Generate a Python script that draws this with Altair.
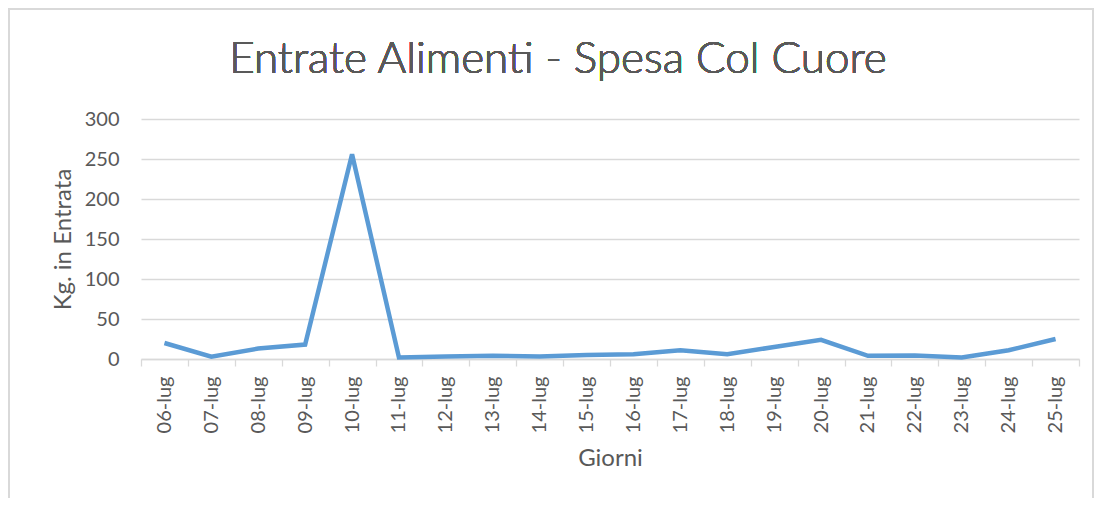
import altair as alt
import pandas as pd

giorni = ["06-lug", "07-lug", "08-lug", "09-lug", "10-lug", "11-lug", "12-lug",
          "13-lug", "14-lug", "15-lug", "16-lug", "17-lug", "18-lug", "19-lug",
          "20-lug", "21-lug", "22-lug", "23-lug", "24-lug", "25-lug"]
kg = [20, 3, 13, 18, 256, 2, 3, 4, 3, 5, 6, 11, 6, 15, 24, 4, 4.5, 2, 11, 25]
y_ticks = [0, 50, 100, 150, 200, 250, 300]
titolo = "Entrate Alimenti - Spesa Col Cuore"

df = pd.DataFrame({"Giorni": giorni, "Kg": kg})

FONT = "Lato"
TXT = "#595959"
W, H = 938, 240
PL, PT, PR, PB = 133, 111, 15, 139

line = alt.Chart(df).mark_line(color="#5b9bd5", strokeWidth=4.5, strokeJoin="miter").encode(
    x=alt.X("Giorni:N", sort=giorni,
            scale=alt.Scale(paddingInner=0, paddingOuter=0),
            axis=alt.Axis(title="Giorni", labelAngle=-90, labelFontSize=20,
                          labelColor=TXT, titleColor=TXT, titleFontSize=24,
                          titleFontWeight="normal", titlePadding=14,
                          tickBand="extent", ticks=True, tickSize=7,
                          tickColor="#d9d9d9", domainColor="#d9d9d9",
                          domainWidth=1.3, tickWidth=1.3,
                          labelPadding=10, grid=False, labelFont=FONT,
                          titleFont=FONT)),
    y=alt.Y("Kg:Q", scale=alt.Scale(domain=[0, 300], nice=False),
            axis=alt.Axis(title="Kg. in Entrata", values=y_ticks,
                          labelFontSize=20, labelColor=TXT, titleColor=TXT,
                          titleFontSize=24, titleFontWeight="normal",
                          titlePadding=9, domain=False, ticks=False,
                          gridColor="#d9d9d9", gridWidth=1.3, labelPadding=22,
                          labelFont=FONT, titleFont=FONT)),
)

border = alt.Chart(df).mark_rect(fill=None, stroke="#d9d9d9", strokeWidth=1.5).encode(
    x=alt.value(-PL + 1), x2=alt.value(W + PR - 1),
    y=alt.value(-PT + 1), y2=alt.value(H + PB + 10),
)

title = alt.Chart(df).mark_text(font=FONT, fontSize=44, fontWeight=300, color=TXT,
                                align="center", baseline="alphabetic").encode(
    text=alt.datum(titolo), x=alt.value(W / 2 - 52), y=alt.value(-46),
)

chart = alt.layer(border, title, line).properties(
    width=W, height=H,
    padding={"left": PL, "top": PT, "right": PR, "bottom": PB},
    autosize=alt.AutoSizeParams(type="none"),
).configure_view(stroke=None)

chart.save("out.html", embed_options={"renderer": "svg", "actions": False})
